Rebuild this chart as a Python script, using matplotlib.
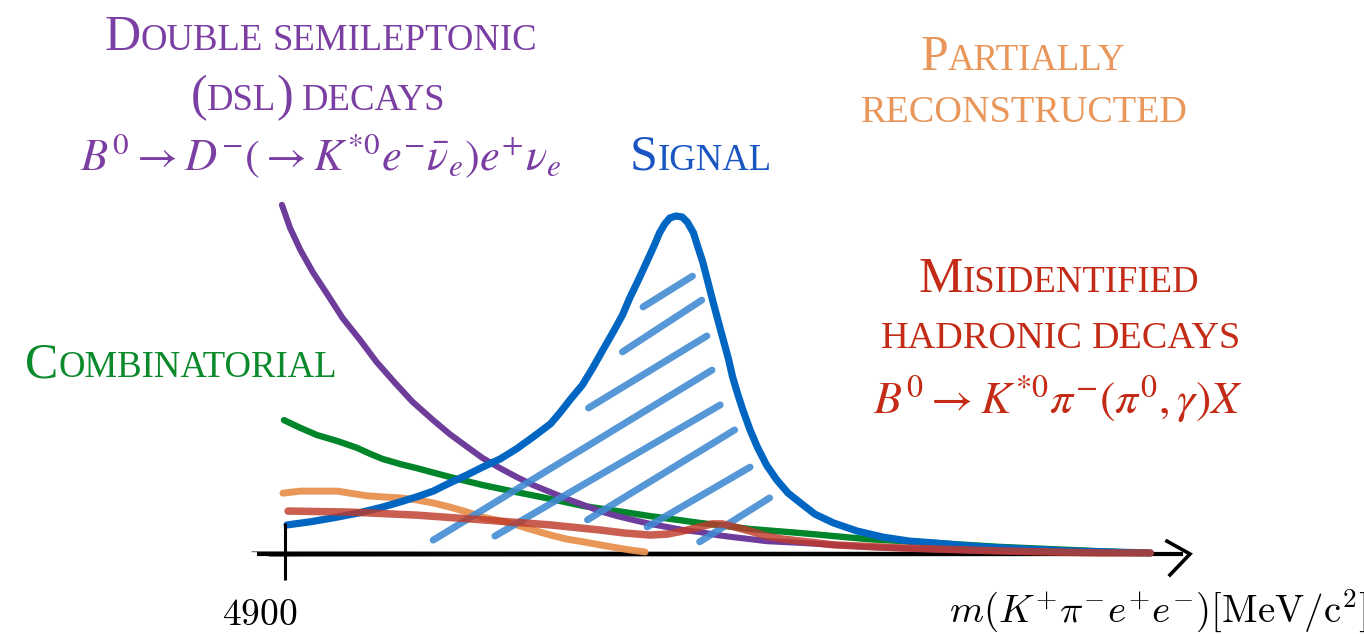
import matplotlib
matplotlib.use("Agg")
import matplotlib.pyplot as plt

W, H, DPI = 1364, 634, 100

# Sketched mass shapes: x in MeV/c^2, y in units of the signal peak height
sig_m = [4902, 4924, 4947, 4971, 4995, 5012, 5028, 5044, 5060, 5077,
         5092, 5109, 5125, 5141, 5158, 5167, 5177, 5189, 5199, 5209,
         5219, 5228, 5235, 5244, 5252, 5259, 5264, 5269, 5274, 5280,
         5286, 5291, 5297, 5301, 5306, 5311, 5316, 5321, 5326, 5331,
         5335, 5340, 5345, 5352, 5359, 5368, 5378, 5389, 5401, 5415,
         5433, 5456, 5481, 5507, 5530, 5563, 5595, 5663, 5741]
sig_y = [0.086, 0.095, 0.107, 0.121, 0.139, 0.154, 0.169, 0.186, 0.210, 0.234,
         0.257, 0.281, 0.311, 0.346, 0.385, 0.417, 0.456, 0.500, 0.550, 0.604,
         0.657, 0.707, 0.757, 0.814, 0.867, 0.914, 0.950, 0.976, 0.994, 1.000,
         0.997, 0.982, 0.950, 0.911, 0.864, 0.805, 0.746, 0.689, 0.633, 0.577,
         0.524, 0.473, 0.426, 0.367, 0.317, 0.263, 0.219, 0.180, 0.151, 0.118,
         0.092, 0.068, 0.050, 0.038, 0.033, 0.024, 0.018, 0.009, 0.003]

dsl_m = [4897, 4905, 4915, 4927, 4941, 4956, 4973, 4989, 5007, 5024,
         5044, 5060, 5077, 5092, 5109, 5125, 5141, 5158, 5174, 5190,
         5206, 5223, 5238, 5255, 5271, 5287, 5303, 5320, 5335, 5352,
         5368, 5401, 5466, 5546, 5644, 5741]
dsl_y = [1.033, 0.964, 0.899, 0.834, 0.769, 0.698, 0.633, 0.568, 0.506, 0.450,
         0.396, 0.355, 0.317, 0.284, 0.254, 0.228, 0.204, 0.183, 0.163, 0.145,
         0.127, 0.112, 0.101, 0.089, 0.080, 0.071, 0.065, 0.056, 0.050, 0.044,
         0.038, 0.033, 0.021, 0.012, 0.006, 0.003]

comb_m = [4899, 4915, 4931, 4951, 4970, 4983, 4995, 5012, 5028, 5060,
          5092, 5125, 5158, 5190, 5223, 5255, 5303, 5352, 5401, 5466,
          5530, 5595, 5663, 5731]
comb_y = [0.396, 0.373, 0.352, 0.334, 0.314, 0.296, 0.281, 0.266, 0.254, 0.228,
          0.204, 0.183, 0.163, 0.142, 0.127, 0.112, 0.092, 0.074, 0.062, 0.044,
          0.033, 0.021, 0.012, 0.003]

part_m = [4898, 4915, 4951, 4963, 4980, 4995, 5012, 5028, 5044, 5060,
          5077, 5092, 5109, 5125, 5141, 5158, 5174, 5190, 5206, 5223,
          5235, 5250]
part_y = [0.180, 0.186, 0.186, 0.180, 0.172, 0.169, 0.166, 0.160, 0.151, 0.139,
          0.124, 0.109, 0.098, 0.086, 0.071, 0.056, 0.044, 0.036, 0.027, 0.018,
          0.012, 0.006]

misid_m = [4903, 4963, 5028, 5092, 5158, 5206, 5230, 5255, 5272, 5287,
           5303, 5315, 5325, 5337, 5352, 5368, 5384, 5408, 5433, 5498,
           5595, 5692, 5741]
misid_y = [0.127, 0.124, 0.115, 0.101, 0.086, 0.071, 0.062, 0.056, 0.059, 0.068,
           0.080, 0.089, 0.089, 0.080, 0.068, 0.053, 0.044, 0.036, 0.027, 0.018,
           0.009, 0.003, 0.003]

# Hatch strokes inside the signal peak (start and end points)
hatch_m0 = [5248, 5228, 5195, 5044, 5104, 5194, 5252, 5303]
hatch_y0 = [0.731, 0.598, 0.432, 0.041, 0.053, 0.101, 0.080, 0.036]
hatch_m1 = [5296, 5305, 5310, 5315, 5323, 5337, 5352, 5371]
hatch_y1 = [0.822, 0.751, 0.645, 0.544, 0.441, 0.367, 0.257, 0.166]

x_start_label = "4900"
x_axis_label = r"$m(K^{+}\pi^{-}e^{+}e^{-})[\mathrm{MeV/c}^{2}]$"

fig = plt.figure(figsize=(W / DPI, H / DPI), dpi=DPI)
ax = fig.add_axes([0, 0, 1, 1])
ax.set_xlim(4623.0, 5948.7)
ax.set_ylim(-0.2367, 1.639)
ax.axis("off")

line_kw = dict(solid_capstyle="round", solid_joinstyle="round")
ax.plot(comb_m, comb_y, color="#00852A", lw=4.6, zorder=2, **line_kw)
ax.plot(dsl_m, dsl_y, color="#6E3C9B", lw=4.4, zorder=3, **line_kw)
ax.plot(part_m, part_y, color="#E8924F", lw=5.0, alpha=0.95, zorder=4, **line_kw)
ax.plot(sig_m, sig_y, color="#0066C2", lw=5.2, zorder=5, **line_kw)
for m0, y0, m1, y1 in zip(hatch_m0, hatch_y0, hatch_m1, hatch_y1):
    ax.plot([m0, m1], [y0, y1], color="#3F8AD2", lw=5.0, alpha=0.88,
            solid_capstyle="round", zorder=6)
ax.plot(misid_m, misid_y, color="#BF3A2A", lw=5.4, alpha=0.82, zorder=7, **line_kw)

# Hand-drawn style axis with start tick and open arrow head
ax.plot([4872.8, 5772.8], [0.0, 0.0], color="black", lw=3.0, zorder=1,
        solid_capstyle="butt")
ax.plot([4868.0, 5700.0], [0.007, 0.004], color="black", lw=0.9, alpha=0.5, zorder=1)
ax.plot([4885.0, 5765.0], [-0.007, -0.004], color="black", lw=0.9, alpha=0.5, zorder=1)
ax.plot([4900, 4900], [0.092, -0.077], color="black", lw=2.2, zorder=8,
        solid_capstyle="butt")
ax.plot([5757.2, 5779.6, 5760.1], [0.038, 0.0, -0.062], color="black", lw=2.6,
        zorder=8, solid_joinstyle="miter")

renderer = fig.canvas.get_renderer()
SERIF = "Liberation Serif"


def caps_label(text, cx, base_py, color, big=36, small=26.5):
    """Small-caps label: capitals large, lower-case letters as small capitals."""
    space_px = 0.25 * small * DPI / 72.0
    items = []  # (Text or None for a space, width)
    for wi, word in enumerate(text.split(" ")):
        if wi > 0:
            items.append((None, space_px))
        runs = []
        for ch in word:
            key = "s" if ch.islower() else "b"
            c = ch.upper()
            if runs and runs[-1][1] == key:
                runs[-1][0] += c
            else:
                runs.append([c, key])
        for s, key in runs:
            t = fig.text(0, 1 - base_py / H, s, family=SERIF, color=color,
                         fontsize=big if key == "b" else small,
                         ha="left", va="baseline")
            items.append((t, t.get_window_extent(renderer).width))
    total = sum(w for _, w in items)
    x = cx - total / 2.0
    for t, w in items:
        if t is not None:
            t.set_x(x / W)
        x += w


def math_label(s, cx, base_py, color, size, family="stix"):
    fig.text(cx / W, 1 - base_py / H, s, ha="center", va="baseline",
             color=color, fontsize=size, math_fontfamily=family)


PURPLE_T = "#7B3FA3"
caps_label("Double semileptonic", 321, 50, PURPLE_T)
caps_label("(dsl) decays", 318, 110, PURPLE_T)
math_label(r"$B^{0}\rightarrow D^{-}(\rightarrow K^{*0}e^{-}\bar{\nu}_{e})e^{+}\nu_{e}$",
           320, 170, PURPLE_T, 32)

ORANGE_T = "#E8965A"
caps_label("Partially", 1023, 70, ORANGE_T)
caps_label("reconstructed", 1024, 122, ORANGE_T, small=27.5)

caps_label("Signal", 701, 170, "#1A55C4")

RED_T = "#C42B16"
caps_label("Misidentified", 1059, 292, RED_T)
caps_label("hadronic decays", 1061, 348, RED_T, small=27.5)
math_label(r"$B^{0}\rightarrow K^{*0}\pi^{-}(\pi^{0},\gamma)X$", 1058, 414, RED_T, 33)

caps_label("Combinatorial", 181, 377, "#0B8A2C")

math_label(r"$\mathrm{" + x_start_label + "}$", 260, 625, "black", 27, family="cm")
math_label(x_axis_label, 1158, 623, "black", 28, family="cm")

fig.savefig("out.png", dpi=DPI, facecolor="white")
